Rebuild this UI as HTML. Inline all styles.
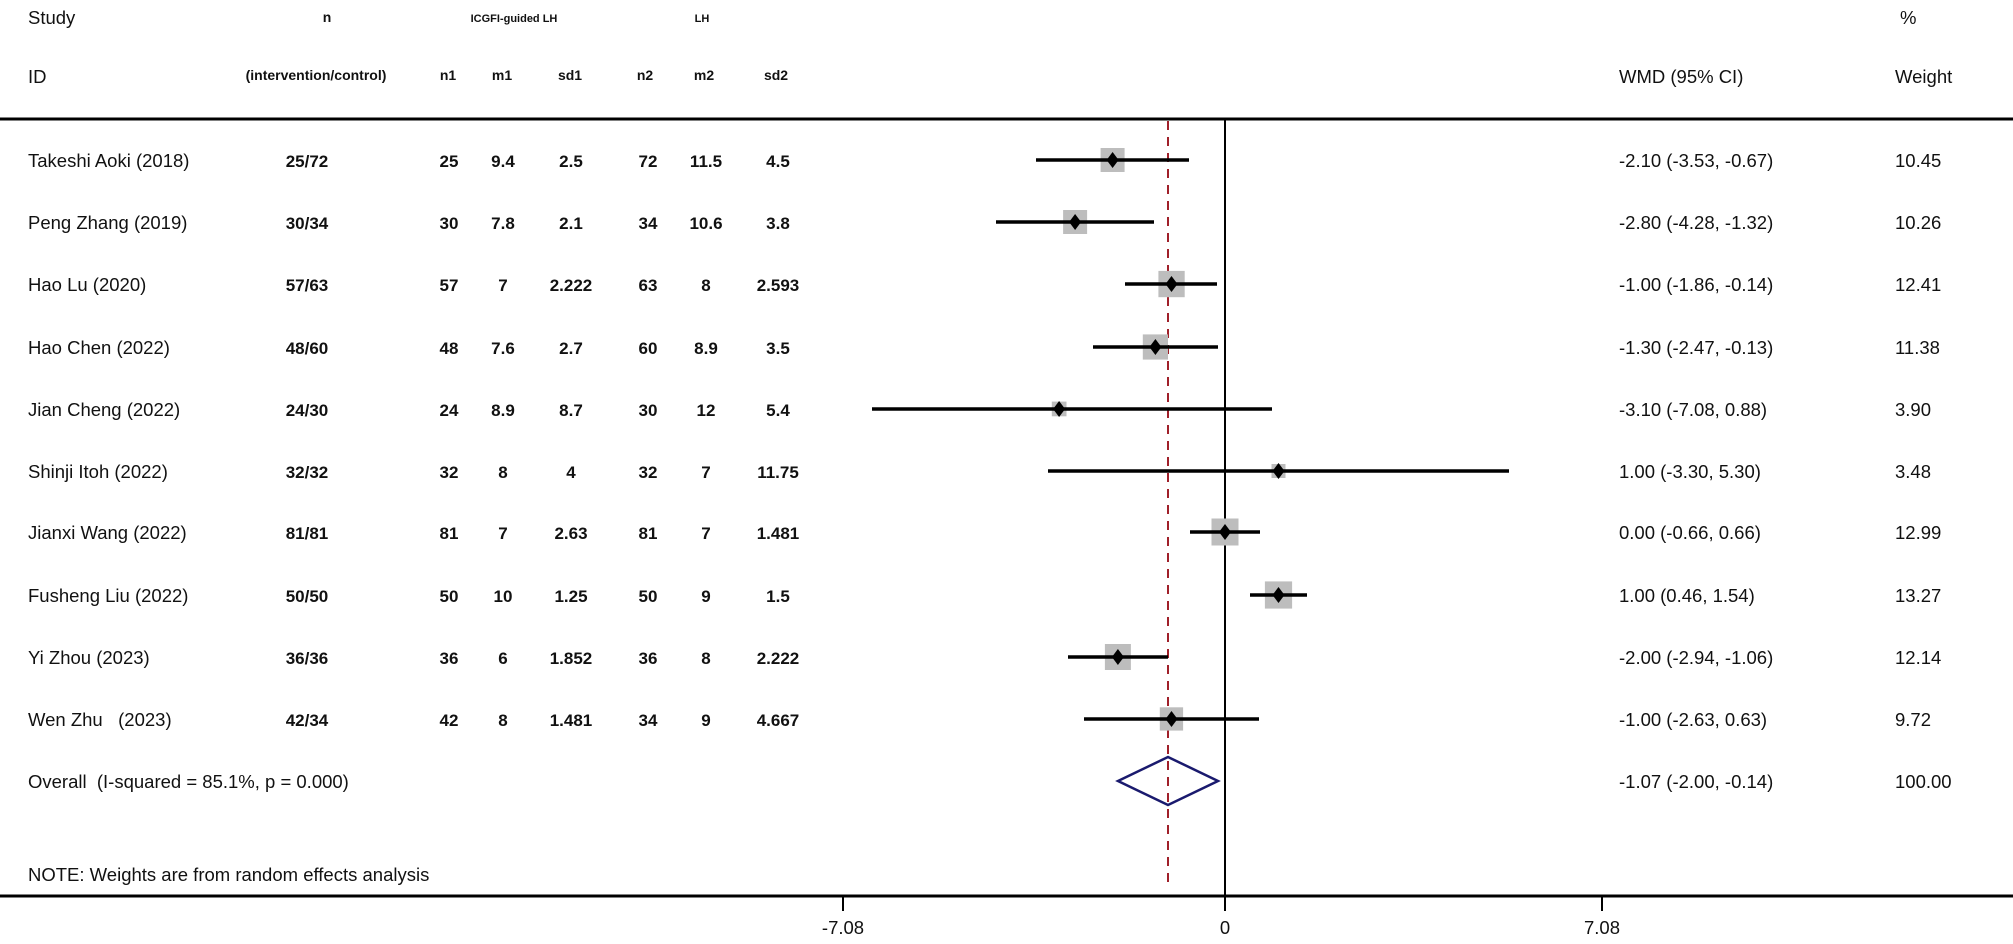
<!DOCTYPE html>
<html><head><meta charset="utf-8"><style>
html,body{margin:0;padding:0;background:#fff;}
svg{display:block;font-family:"Liberation Sans",Arial,sans-serif;}
.t{font-size:18.5px;fill:#111;}
.b{font-size:17px;fill:#111;font-weight:bold;}
.h{font-size:14px;fill:#111;font-weight:bold;}
.s{font-size:11px;fill:#111;font-weight:bold;}
.ci{stroke:#000;stroke-width:3.5;}
.bx{fill:#bdbdbd;}
</style></head><body>
<svg width="2013" height="944" viewBox="0 0 2013 944" xmlns="http://www.w3.org/2000/svg">
<text class="t" x="28" y="24">Study</text>
<text class="h" x="327" y="22" text-anchor="middle">n</text>
<text class="s" x="514" y="22" text-anchor="middle">ICGFI-guided LH</text>
<text class="s" x="702" y="22" text-anchor="middle">LH</text>
<text class="t" x="1900" y="24">%</text>
<text class="t" x="28" y="83">ID</text>
<text class="h" x="316" y="80" text-anchor="middle">(intervention/control)</text>
<g class="h" text-anchor="middle">
<text x="448" y="80">n1</text><text x="502" y="80">m1</text><text x="570" y="80">sd1</text>
<text x="645" y="80">n2</text><text x="704" y="80">m2</text><text x="776" y="80">sd2</text></g>
<text class="t" x="1619" y="83">WMD (95% CI)</text>
<text class="t" x="1895" y="83">Weight</text>
<line x1="0" y1="119" x2="2013" y2="119" stroke="#000" stroke-width="3"/>
<line x1="0" y1="896" x2="2013" y2="896" stroke="#000" stroke-width="3"/>
<line x1="1225" y1="119" x2="1225" y2="896" stroke="#000" stroke-width="2"/>
<line x1="1168" y1="121" x2="1168" y2="888" stroke="#a0202a" stroke-width="2" stroke-dasharray="9,7"/>
<g stroke="#000" stroke-width="2"><line x1="843" y1="896" x2="843" y2="911"/><line x1="1225" y1="896" x2="1225" y2="911"/><line x1="1602" y1="896" x2="1602" y2="911"/></g>
<g class="t" text-anchor="middle"><text x="843" y="934">-7.08</text><text x="1225" y="934">0</text><text x="1602" y="934">7.08</text></g>

<g class="t">
<text x="28" y="167">Takeshi Aoki (2018)</text>
<text x="28" y="229">Peng Zhang (2019)</text>
<text x="28" y="291">Hao Lu (2020)</text>
<text x="28" y="354">Hao Chen (2022)</text>
<text x="28" y="416">Jian Cheng (2022)</text>
<text x="28" y="478">Shinji Itoh (2022)</text>
<text x="28" y="539">Jianxi Wang (2022)</text>
<text x="28" y="602">Fusheng Liu (2022)</text>
<text x="28" y="664">Yi Zhou (2023)</text>
<text x="28" y="726" xml:space="preserve">Wen Zhu   (2023)</text>
<text x="1619" y="167">-2.10 (-3.53, -0.67)</text>
<text x="1619" y="229">-2.80 (-4.28, -1.32)</text>
<text x="1619" y="291">-1.00 (-1.86, -0.14)</text>
<text x="1619" y="354">-1.30 (-2.47, -0.13)</text>
<text x="1619" y="416">-3.10 (-7.08, 0.88)</text>
<text x="1619" y="478">1.00 (-3.30, 5.30)</text>
<text x="1619" y="539">0.00 (-0.66, 0.66)</text>
<text x="1619" y="602">1.00 (0.46, 1.54)</text>
<text x="1619" y="664">-2.00 (-2.94, -1.06)</text>
<text x="1619" y="726">-1.00 (-2.63, 0.63)</text>
<text x="1895" y="167">10.45</text>
<text x="1895" y="229">10.26</text>
<text x="1895" y="291">12.41</text>
<text x="1895" y="354">11.38</text>
<text x="1895" y="416">3.90</text>
<text x="1895" y="478">3.48</text>
<text x="1895" y="539">12.99</text>
<text x="1895" y="602">13.27</text>
<text x="1895" y="664">12.14</text>
<text x="1895" y="726">9.72</text>
</g>
<g class="b" text-anchor="middle">
<g transform="translate(0,167)"><text x="307">25/72</text><text x="449">25</text><text x="503">9.4</text><text x="571">2.5</text><text x="648">72</text><text x="706">11.5</text><text x="778">4.5</text></g>
<g transform="translate(0,229)"><text x="307">30/34</text><text x="449">30</text><text x="503">7.8</text><text x="571">2.1</text><text x="648">34</text><text x="706">10.6</text><text x="778">3.8</text></g>
<g transform="translate(0,291)"><text x="307">57/63</text><text x="449">57</text><text x="503">7</text><text x="571">2.222</text><text x="648">63</text><text x="706">8</text><text x="778">2.593</text></g>
<g transform="translate(0,354)"><text x="307">48/60</text><text x="449">48</text><text x="503">7.6</text><text x="571">2.7</text><text x="648">60</text><text x="706">8.9</text><text x="778">3.5</text></g>
<g transform="translate(0,416)"><text x="307">24/30</text><text x="449">24</text><text x="503">8.9</text><text x="571">8.7</text><text x="648">30</text><text x="706">12</text><text x="778">5.4</text></g>
<g transform="translate(0,478)"><text x="307">32/32</text><text x="449">32</text><text x="503">8</text><text x="571">4</text><text x="648">32</text><text x="706">7</text><text x="778">11.75</text></g>
<g transform="translate(0,539)"><text x="307">81/81</text><text x="449">81</text><text x="503">7</text><text x="571">2.63</text><text x="648">81</text><text x="706">7</text><text x="778">1.481</text></g>
<g transform="translate(0,602)"><text x="307">50/50</text><text x="449">50</text><text x="503">10</text><text x="571">1.25</text><text x="648">50</text><text x="706">9</text><text x="778">1.5</text></g>
<g transform="translate(0,664)"><text x="307">36/36</text><text x="449">36</text><text x="503">6</text><text x="571">1.852</text><text x="648">36</text><text x="706">8</text><text x="778">2.222</text></g>
<g transform="translate(0,726)"><text x="307">42/34</text><text x="449">42</text><text x="503">8</text><text x="571">1.481</text><text x="648">34</text><text x="706">9</text><text x="778">4.667</text></g>
</g>

<g transform="translate(0,160)"><rect class="bx" x="1100.6" y="-12" width="24" height="24"/><line class="ci" x1="1036" y1="0" x2="1189" y2="0"/><polygon points="1106.6,0 1112.6,-8 1118.6,0 1112.6,8"/></g>
<g transform="translate(0,222)"><rect class="bx" x="1063.1" y="-12" width="24" height="24"/><line class="ci" x1="996" y1="0" x2="1154" y2="0"/><polygon points="1069.1,0 1075.1,-8 1081.1,0 1075.1,8"/></g>
<g transform="translate(0,284)"><rect class="bx" x="1158.4" y="-13.1" width="26.3" height="26.3"/><line class="ci" x1="1125" y1="0" x2="1217" y2="0"/><polygon points="1165.5,0 1171.5,-8 1177.5,0 1171.5,8"/></g>
<g transform="translate(0,347)"><rect class="bx" x="1142.8" y="-12.6" width="25.2" height="25.2"/><line class="ci" x1="1093" y1="0" x2="1218" y2="0"/><polygon points="1149.4,0 1155.4,-8 1161.4,0 1155.4,8"/></g>
<g transform="translate(0,409)"><rect class="bx" x="1051.8" y="-7.4" width="14.7" height="14.7"/><line class="ci" x1="872" y1="0" x2="1272" y2="0"/><polygon points="1053.1,0 1059.1,-8 1065.1,0 1059.1,8"/></g>
<g transform="translate(0,471)"><rect class="bx" x="1271.5" y="-7" width="14" height="14"/><line class="ci" x1="1048" y1="0" x2="1509" y2="0"/><polygon points="1272.5,0 1278.5,-8 1284.5,0 1278.5,8"/></g>
<g transform="translate(0,532)"><rect class="bx" x="1211.5" y="-13.5" width="27" height="27"/><line class="ci" x1="1190" y1="0" x2="1260" y2="0"/><polygon points="1219,0 1225,-8 1231,0 1225,8"/></g>
<g transform="translate(0,595)"><rect class="bx" x="1264.9" y="-13.6" width="27.2" height="27.2"/><line class="ci" x1="1250" y1="0" x2="1307" y2="0"/><polygon points="1272.5,0 1278.5,-8 1284.5,0 1278.5,8"/></g>
<g transform="translate(0,657)"><rect class="bx" x="1104.9" y="-13" width="26" height="26"/><line class="ci" x1="1068" y1="0" x2="1168" y2="0"/><polygon points="1111.9,0 1117.9,-8 1123.9,0 1117.9,8"/></g>
<g transform="translate(0,719)"><rect class="bx" x="1159.8" y="-11.7" width="23.3" height="23.3"/><line class="ci" x1="1084" y1="0" x2="1259" y2="0"/><polygon points="1165.5,0 1171.5,-8 1177.5,0 1171.5,8"/></g>

<polygon points="1118,781 1168,757 1218,781 1168,805" fill="none" stroke="#1a1a6e" stroke-width="2.5"/>
<text class="t" x="28" y="788" xml:space="preserve">Overall  (I-squared = 85.1%, p = 0.000)</text>
<text class="t" x="1619" y="788">-1.07 (-2.00, -0.14)</text>
<text class="t" x="1895" y="788">100.00</text>
<text class="t" x="28" y="881">NOTE: Weights are from random effects analysis</text>
</svg>
</body></html>
